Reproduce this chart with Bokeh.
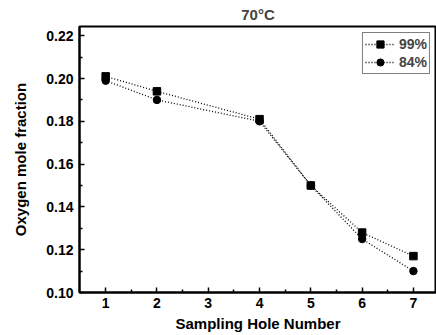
from bokeh.plotting import figure
from bokeh.models import Range1d, Legend, LegendItem, FixedTicker, CustomJSTickFormatter
from bokeh.embed import file_html
from bokeh.resources import INLINE

holes = [1, 2, 4, 5, 6, 7]
o2_99 = [0.201, 0.194, 0.181, 0.150, 0.128, 0.117]
o2_84 = [0.199, 0.190, 0.180, 0.150, 0.125, 0.110]
x_ticks = [1, 2, 3, 4, 5, 6, 7]
y_ticks = [0.10, 0.12, 0.14, 0.16, 0.18, 0.20, 0.22]

FONT = "Liberation Sans"

p = figure(width=436, height=335, output_backend="svg", toolbar_location=None,
           x_range=Range1d(0.49, 7.45), y_range=Range1d(0.10, 0.2243),
           title="70°C", min_border_left=79, min_border_right=0,
           min_border_top=0, min_border_bottom=43)
p.grid.visible = False
p.background_fill_color = "white"
p.border_fill_color = "white"
p.outline_line_color = "black"
p.outline_line_width = 2

p.title.align = "center"
p.title.text_font = FONT
p.title.text_font_size = "15px"
p.title.text_font_style = "bold"
p.title.offset = 0
p.title.standoff = 7

for ax in (p.xaxis[0], p.yaxis[0]):
    ax.axis_line_width = 2
    ax.axis_line_color = "black"
    ax.major_tick_in = 5
    ax.major_tick_out = 0
    ax.minor_tick_in = 3
    ax.minor_tick_out = 0
    ax.major_tick_line_width = 1.5
    ax.minor_tick_line_width = 1.5
    ax.major_label_text_font = FONT
    ax.major_label_text_font_style = "bold"
    ax.major_label_text_font_size = "14px"
    ax.major_label_text_color = "black"
    ax.axis_label_text_font = FONT
    ax.axis_label_text_font_style = "bold"
    ax.axis_label_text_font_size = "15px"
    ax.axis_label_text_color = "black"

p.xaxis[0].ticker = FixedTicker(ticks=x_ticks, minor_ticks=[1.5, 2.5, 3.5, 4.5, 5.5, 6.5])
p.yaxis[0].ticker = FixedTicker(ticks=y_ticks, minor_ticks=[0.11, 0.13, 0.15, 0.17, 0.19, 0.21])
p.yaxis[0].formatter = CustomJSTickFormatter(code="return tick.toFixed(2);")
p.xaxis[0].axis_label = "Sampling Hole Number"
p.yaxis[0].axis_label = "Oxygen mole fraction"
p.xaxis[0].major_label_standoff = 5
p.yaxis[0].major_label_standoff = 6
p.xaxis[0].axis_label_standoff = 4
p.yaxis[0].axis_label_standoff = 14

l1 = p.line(holes, o2_99, line_color="black", line_dash="1 2", line_width=1.3)
s1 = p.scatter(holes, o2_99, marker="square", size=7.5, color="black")
l2 = p.line(holes, o2_84, line_color="black", line_dash="1 2", line_width=1.3)
s2 = p.scatter(holes, o2_84, marker="circle", size=7.5, color="black")

legend = Legend(items=[LegendItem(label="99%", renderers=[l1, s1]),
                       LegendItem(label="84%", renderers=[l2, s2])],
                location="top_right")
legend.label_text_font = FONT
legend.label_text_font_style = "bold"
legend.label_text_font_size = "14px"
legend.border_line_color = "black"
legend.border_line_width = 1
legend.glyph_width = 30
legend.glyph_height = 18
legend.label_standoff = 4
legend.spacing = 0
legend.padding = 2
legend.margin = 6
legend.label_height = 18
p.add_layout(legend)

open("out.html", "w").write(file_html(p, INLINE))
